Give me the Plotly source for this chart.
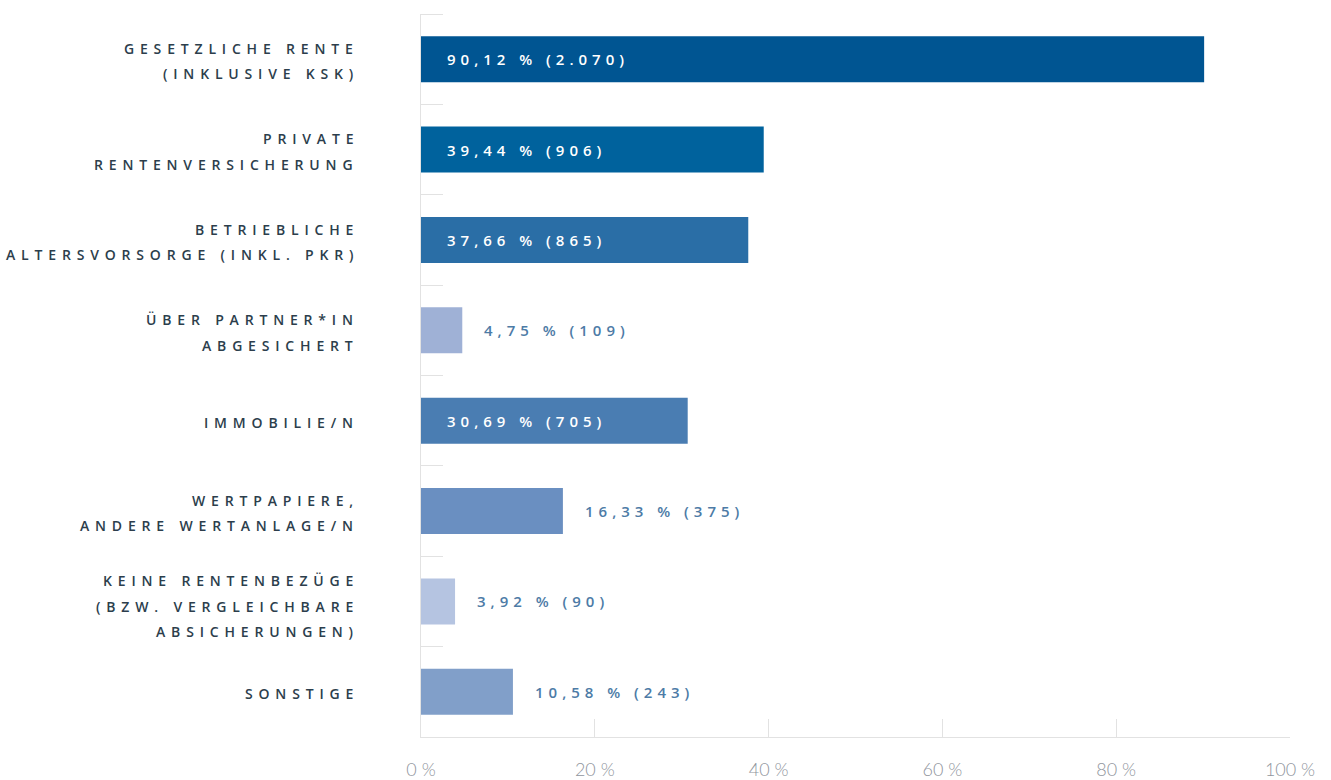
import plotly.graph_objects as go

categories = [
    "GESETZLICHE RENTE|(INKLUSIVE KSK)",
    "PRIVATE|RENTENVERSICHERUNG",
    "BETRIEBLICHE|ALTERSVORSORGE (INKL. PKR)",
    "ÜBER PARTNER*IN|ABGESICHERT",
    "IMMOBILIE/N",
    "WERTPAPIERE,|ANDERE WERTANLAGE/N",
    "KEINE RENTENBEZÜGE|(BZW. VERGLEICHBARE|ABSICHERUNGEN)",
    "SONSTIGE",
]
percent = [90.12, 39.44, 37.66, 4.75, 30.69, 16.33, 3.92, 10.58]
counts = ["2.070", "906", "865", "109", "705", "375", "90", "243"]
inside = [True, True, True, False, True, False, False, False]
colors = ["#005592", "#00629d", "#2a6ea6", "#9fb1d6", "#4a7db2", "#6a8fc1", "#b5c4e1", "#819fc9"]
tick_vals = [0, 20, 40, 60, 80, 100]
tick_text = ["0 %", "20 %", "40 %", "60 %", "80 %", "100 %"]

CAT_SP = "\u2005\u2009"
VAL_SP = "\u2004"


def spaced(s, sp):
    return sp.join(list(s))


def fmt_pct(v):
    return f"{v:.2f}".replace(".", ",")


ids = list(range(len(categories)))

fig = go.Figure()
fig.add_trace(go.Bar(
    x=percent, y=ids, orientation="h",
    marker=dict(color=colors, line=dict(width=0)),
    hoverinfo="skip",
))

annotations = []
for i, (cat, p, c, ins) in enumerate(zip(categories, percent, counts, inside)):
    label = spaced(f"{fmt_pct(p)} % ({c})", VAL_SP)
    if ins:
        annotations.append(dict(
            x=0, y=i, xref="x", yref="y", text=label, showarrow=False,
            xanchor="left", xshift=24, yshift=0,
            font=dict(family="Open Sans", size=15, color="#ffffff", weight=600),
        ))
    else:
        annotations.append(dict(
            x=p, y=i, xref="x", yref="y", text=label, showarrow=False,
            xanchor="left", xshift=20, yshift=0,
            font=dict(family="Open Sans", size=15, color="#4d7ba6", weight=600),
        ))
    lines = cat.split("|")
    n = len(lines)
    extra = -3 if n == 3 else 0
    for k, line in enumerate(lines):
        off = (k - (n - 1) / 2) * 25.5
        annotations.append(dict(
            x=0, y=i, xref="paper", yref="y", text=spaced(line, CAT_SP), showarrow=False,
            xanchor="right", xshift=-66, yshift=-off - 2 + extra,
            font=dict(family="Open Sans", size=14, color="#2c3e4c", weight=600),
        ))

fig.update_layout(
    width=1331, height=780,
    margin=dict(l=421, r=41, t=14, b=43, autoexpand=False),
    paper_bgcolor="white", plot_bgcolor="white",
    bargap=0.49,
    showlegend=False,
    annotations=annotations,
    xaxis=dict(
        range=[0, 100], tickvals=tick_vals, ticktext=tick_text,
        showgrid=False, zeroline=False,
        showline=True, linecolor="#e2e2e2", linewidth=1,
        ticks="inside", ticklen=18, tickcolor="#e2e2e2",
        tickfont=dict(family="Lato", size=18, color="#90959d", weight=300),
        ticklabelstandoff=16,
        automargin=False,
        fixedrange=True,
    ),
    yaxis=dict(
        range=[7.5, -0.5], tickvals=ids, showticklabels=False,
        type="linear",
        showgrid=False, zeroline=False,
        showline=True, linecolor="#e2e2e2", linewidth=1,
        automargin=False,
        fixedrange=True,
    ),
)

fig.update_yaxes(
    ticks="",
    minor=dict(tickvals=[i - 0.5 for i in range(len(categories) + 1)],
               ticks="inside", ticklen=22, tickcolor="#e2e2e2", showgrid=False),
)

fig.write_html("out.html")
